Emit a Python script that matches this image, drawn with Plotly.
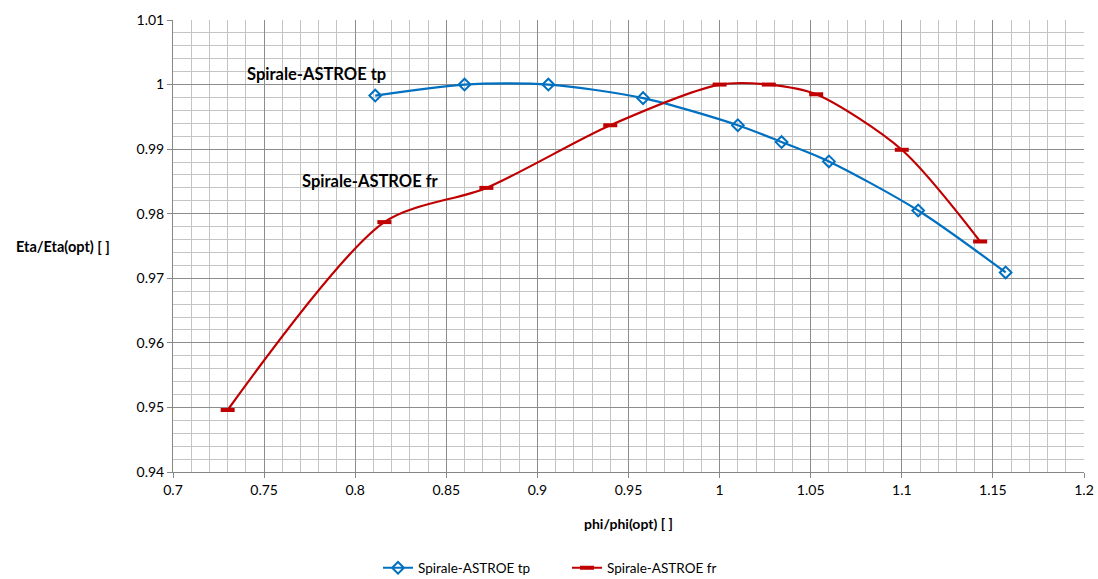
import plotly.graph_objects as go

# Spirale-ASTROE tp
tp_phi = [0.811, 0.860, 0.906, 0.958, 1.010, 1.034, 1.060, 1.109, 1.157]
tp_eta = [0.9983, 1.0000, 1.0000, 0.9979, 0.9937, 0.9911, 0.9881, 0.9805, 0.9709]

# Spirale-ASTROE fr
fr_phi = [0.730, 0.816, 0.872, 0.940, 1.000, 1.027, 1.053, 1.100, 1.143]
fr_eta = [0.9496, 0.9787, 0.9840, 0.9937, 1.0000, 1.0000, 0.9985, 0.9899, 0.9757]

FONT = "Lato"
BLUE = "#0070C0"
RED = "#C00000"

fig = go.Figure()
fig.add_trace(go.Scatter(
    x=tp_phi, y=tp_eta, name="Spirale-ASTROE tp",
    mode="lines+markers",
    line=dict(color=BLUE, width=2.2, shape="spline", smoothing=0.8),
    marker=dict(symbol="diamond-open", size=9, color=BLUE, line=dict(width=2, color=BLUE)),
))
fig.add_trace(go.Scatter(
    x=fr_phi, y=fr_eta, name="Spirale-ASTROE fr",
    mode="lines+markers",
    line=dict(color=RED, width=2.2, shape="spline", smoothing=0.8),
    marker=dict(symbol="line-ew", size=10, color=RED, line=dict(width=4, color=RED)),
))

axis_common = dict(
    showline=True, linecolor="#868686", linewidth=1,
    showgrid=True, gridcolor="#8c8c8c", gridwidth=1,
    ticks="outside", ticklen=5, tickcolor="#868686",
    tickfont=dict(family=FONT, size=14, color="#000"),
    zeroline=False, mirror=False,
)

fig.update_xaxes(
    range=[0.7, 1.2], dtick=0.05, tick0=0.7,
    minor=dict(dtick=0.01, showgrid=True, gridcolor="#c4c4c4", gridwidth=1.3),
    **axis_common,
)
fig.update_yaxes(
    range=[0.94, 1.01], dtick=0.01, tick0=0.94,
    minor=dict(dtick=0.002, showgrid=True, gridcolor="#c4c4c4", gridwidth=1.3),
    **axis_common,
)

# series labels inside the plot
fig.add_annotation(text="<b>Spirale-ASTROE tp</b>", x=0.7787, y=1.0017, xref="x", yref="y",
                   xanchor="center", yanchor="middle", showarrow=False,
                   font=dict(family=FONT, size=16.5, color="#000"))
fig.add_annotation(text="<b>Spirale-ASTROE fr</b>", x=0.8084, y=0.9850, xref="x", yref="y",
                   xanchor="center", yanchor="middle", showarrow=False,
                   font=dict(family=FONT, size=16.5, color="#000"))
# axis titles
fig.add_annotation(text="<b>Eta/Eta(opt) [ ]</b>", x=-0.121, y=0.5, xref="paper", yref="paper",
                   xanchor="center", yanchor="middle", showarrow=False,
                   font=dict(family=FONT, size=14.5, color="#000"))
fig.add_annotation(text="<b>phi/phi(opt) [ ]</b>", x=0.5, y=-0.113, xref="paper", yref="paper",
                   xanchor="center", yanchor="middle", showarrow=False,
                   font=dict(family=FONT, size=14, color="#000"))

fig.update_layout(
    width=1098, height=579,
    margin=dict(l=173, r=14, t=20, b=107, autoexpand=False),
    paper_bgcolor="white", plot_bgcolor="white",
    showlegend=True,
    legend=dict(orientation="h", xref="container", yref="container",
                x=0.5164, y=0.019, xanchor="center", yanchor="middle",
                font=dict(family=FONT, size=13.5, color="#000"),
                itemwidth=30, tracegroupgap=0, entrywidth=144),
    font=dict(family=FONT),
)

fig.write_html("out.html")
